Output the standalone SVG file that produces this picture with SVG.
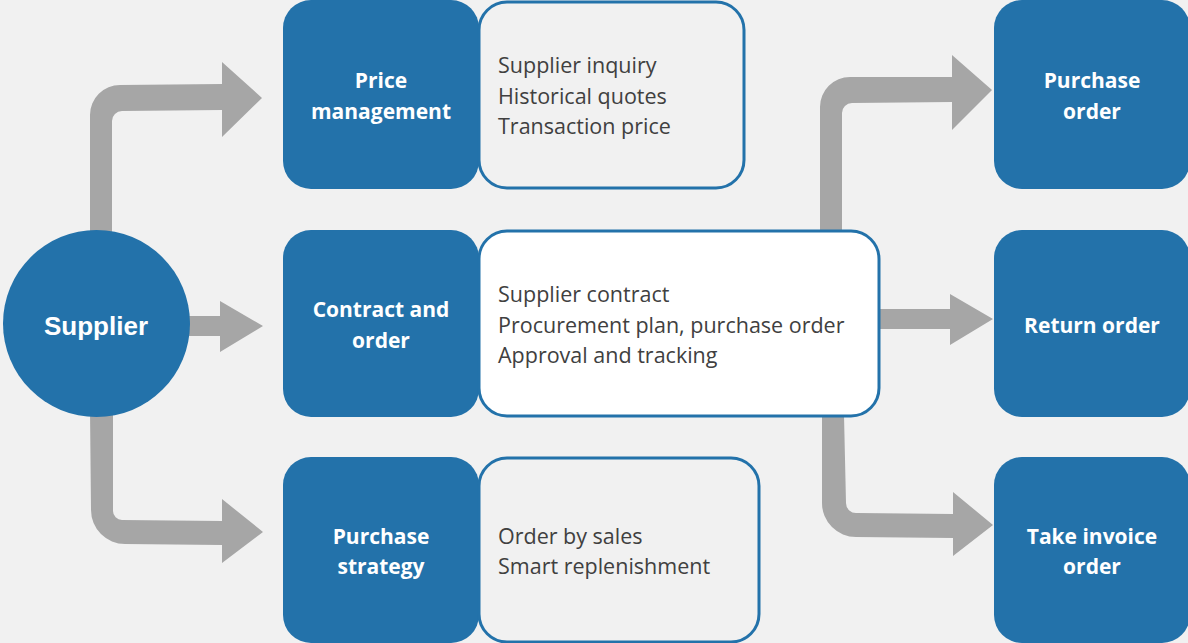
<svg xmlns="http://www.w3.org/2000/svg" width="1188" height="643" viewBox="0 0 1188 643">
<style>
.bg{fill:#f1f1f1}
.arrow{fill:#a6a6a6}
.node{fill:#2372aa}
.det{stroke:#2372aa;stroke-width:3}
.lbl{font-family:"Open Sans","Noto Sans",sans-serif;font-weight:bold;font-size:21px;fill:#ffffff;text-anchor:middle}
.txt{font-family:"Open Sans","Noto Sans",sans-serif;font-size:21.5px;fill:#404040}
.sup{font-family:"Liberation Sans",Arial,sans-serif;font-weight:bold;font-size:26px;fill:#ffffff;text-anchor:middle}
</style>
<rect class="bg" x="0" y="0" width="1188" height="643"/>
<g id="connectors">
<path class="arrow" d="M90,240 L90,115 A30,30 0 0 1 120,85 L222,84 L222,62 L262,98 L222,137 L222,110 L122,111 A10,10 0 0 0 112,121 L112,240 Z"/>
<path class="arrow" d="M180,316 L220,316 L220,301 L263,326 L220,352 L220,336 L180,336 Z"/>
<path class="arrow" d="M90,410 L91,510 A34,34 0 0 0 125,544 L222,545 L222,563 L263,532 L222,499 L222,521 L122,520 A9,9 0 0 1 113,511 L113,410 Z"/>
<path class="arrow" d="M820,232 L820,107 A30,30 0 0 1 850,77 L952,77 L952,55 L992,90 L952,130 L952,102 L852,103 A10,10 0 0 0 842,113 L842,232 Z"/>
<path class="arrow" d="M878,309 L950,309 L950,294 L993,319 L950,345 L950,329 L878,329 Z"/>
<path class="arrow" d="M822,415 L822,503 A34,34 0 0 0 856,537 L953,538 L953,556 L993,525 L953,492 L953,514 L857,513 A10,10 0 0 1 846,503 L844,415 Z"/>
</g>
<g id="supplier">
<circle class="node" cx="96.5" cy="323.5" r="93.5"/>
<text class="sup" x="96" y="335">Supplier</text>
</g>
<g id="price-management">
<rect class="node" x="283" y="0" width="196" height="189" rx="28"/>
<text class="lbl" x="381" y="88">Price</text>
<text class="lbl" x="381" y="119">management</text>
</g>
<g id="price-details">
<rect class="det" x="479" y="2" width="265" height="186" rx="28" fill="#f1f1f1"/>
<text class="txt" x="498" y="73">Supplier inquiry</text>
<text class="txt" x="498" y="104">Historical quotes</text>
<text class="txt" x="498" y="134">Transaction price</text>
</g>
<g id="contract-order">
<rect class="node" x="283" y="230" width="196" height="187" rx="28"/>
<text class="lbl" x="381" y="317">Contract and</text>
<text class="lbl" x="381" y="348">order</text>
</g>
<g id="contract-details">
<rect class="det" x="479" y="231" width="400" height="185" rx="28" fill="#ffffff"/>
<text class="txt" x="498" y="302">Supplier contract</text>
<text class="txt" x="498" y="333">Procurement plan, purchase order</text>
<text class="txt" x="498" y="363">Approval and tracking</text>
</g>
<g id="purchase-strategy">
<rect class="node" x="283" y="457" width="196" height="186" rx="28"/>
<text class="lbl" x="381" y="544">Purchase</text>
<text class="lbl" x="381" y="574">strategy</text>
</g>
<g id="strategy-details">
<rect class="det" x="479" y="458" width="280" height="184" rx="28" fill="#f1f1f1"/>
<text class="txt" x="498" y="544">Order by sales</text>
<text class="txt" x="498" y="574">Smart replenishment</text>
</g>
<g id="purchase-order">
<rect class="node" x="994" y="0" width="196" height="189" rx="28"/>
<text class="lbl" x="1092" y="88">Purchase</text>
<text class="lbl" x="1092" y="119">order</text>
</g>
<g id="return-order">
<rect class="node" x="994" y="230" width="196" height="187" rx="28"/>
<text class="lbl" x="1092" y="333">Return order</text>
</g>
<g id="take-invoice-order">
<rect class="node" x="994" y="457" width="196" height="186" rx="28"/>
<text class="lbl" x="1092" y="544">Take invoice</text>
<text class="lbl" x="1092" y="574">order</text>
</g>
</svg>
